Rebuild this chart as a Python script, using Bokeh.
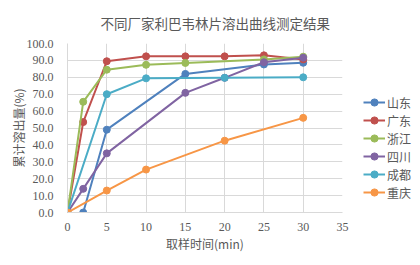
from bokeh.plotting import figure
from bokeh.models import Range1d, FixedTicker, NumeralTickFormatter, Legend, LegendItem, Spacer
from bokeh.layouts import row
from bokeh.embed import file_html
from bokeh.resources import INLINE

names = ["山东", "广东", "浙江", "四川", "成都", "重庆"]
colors = ["#4F81BD", "#C0504D", "#9BBB59", "#8064A2", "#4BACC6", "#F79646"]

t_sd = [2, 5, 15, 25, 30]
v_sd = [0.0, 49.0, 82.0, 87.6, 88.6]
t_gd = [0, 2, 5, 10, 15, 20, 25, 30]
v_gd = [0.0, 53.5, 89.5, 92.4, 92.4, 92.4, 93.0, 90.6]
t_zj = [0, 2, 5, 10, 15, 25, 30]
v_zj = [0.0, 65.5, 84.5, 87.4, 88.5, 90.6, 92.2]
t_sc = [0, 2, 5, 15, 20, 25, 30]
v_sc = [0.0, 14.0, 35.0, 70.8, 79.7, 88.9, 91.6]
t_cd = [0, 5, 10, 20, 30]
v_cd = [0.0, 70.0, 79.4, 79.7, 80.0]
t_cq = [0, 5, 10, 20, 30]
v_cq = [0.0, 13.0, 25.4, 42.5, 56.0]

series = [(t_sd, v_sd), (t_gd, v_gd), (t_zj, v_zj), (t_sc, v_sc), (t_cd, v_cd), (t_cq, v_cq)]

x_ticks = [0, 5, 10, 15, 20, 25, 30, 35]
y_ticks = [0, 10, 20, 30, 40, 50, 60, 70, 80, 90, 100]

txt = "#595959"
grid = "#D9D9D9"
serif = "Liberation Serif"
cjk = "Noto Sans CJK SC"

p = figure(frame_width=275, frame_height=169, output_backend="svg", toolbar_location=None,
           x_range=Range1d(0, 35), y_range=Range1d(0, 100),
           min_border_left=59, min_border_right=70, min_border_top=0, min_border_bottom=44,
           title="不同厂家利巴韦林片溶出曲线测定结果")
p.outline_line_color = None
p.title.align = "left"
p.title.offset = 33
p.title.text_font = cjk
p.title.text_font_size = "13.5px"
p.title.text_font_style = "normal"
p.title.text_color = txt
p.title.standoff = 21

p.xaxis.ticker = FixedTicker(ticks=x_ticks)
p.yaxis.ticker = FixedTicker(ticks=y_ticks)
p.yaxis.formatter = NumeralTickFormatter(format="0.0")
for ax in (p.xaxis[0], p.yaxis[0]):
    ax.axis_line_color = grid
    ax.major_tick_line_color = None
    ax.minor_tick_line_color = None
    ax.major_label_text_font = serif
    ax.major_label_text_font_size = "12px"
    ax.major_label_text_color = txt
    ax.axis_label_text_font = cjk
    ax.axis_label_text_font_size = "12px"
    ax.axis_label_text_font_style = "normal"
    ax.axis_label_text_color = txt
p.xaxis.axis_label = "取样时间(min)"
p.yaxis.axis_label = "累计溶出量(%)"
p.xaxis.major_label_standoff = 4
p.yaxis.major_label_standoff = 8
p.xaxis.axis_label_standoff = 1
p.yaxis.axis_label_standoff = -3
p.xgrid.grid_line_color = grid
p.ygrid.grid_line_color = grid

items = []
for (t, v), name, c in zip(series, names, colors):
    r1 = p.line(t, v, line_color=c, line_width=2)
    r2 = p.scatter(t, v, marker="circle", size=7, fill_color=c, line_color=c)
    items.append(LegendItem(label=name, renderers=[r1, r2]))

legend = Legend(items=items, location=(21, 11))
legend.background_fill_alpha = 0
legend.border_line_color = None
legend.padding = 0
legend.margin = 0
legend.spacing = 0
legend.glyph_width = 22
legend.glyph_height = 18
legend.label_height = 18
legend.label_standoff = 2
legend.label_text_font = cjk
legend.label_text_font_size = "12px"
legend.label_text_color = txt
p.add_layout(legend, "right")

layout = row(Spacer(width=6, height=10), p, spacing=0)

open("out.html", "w").write(file_html(layout, INLINE))
